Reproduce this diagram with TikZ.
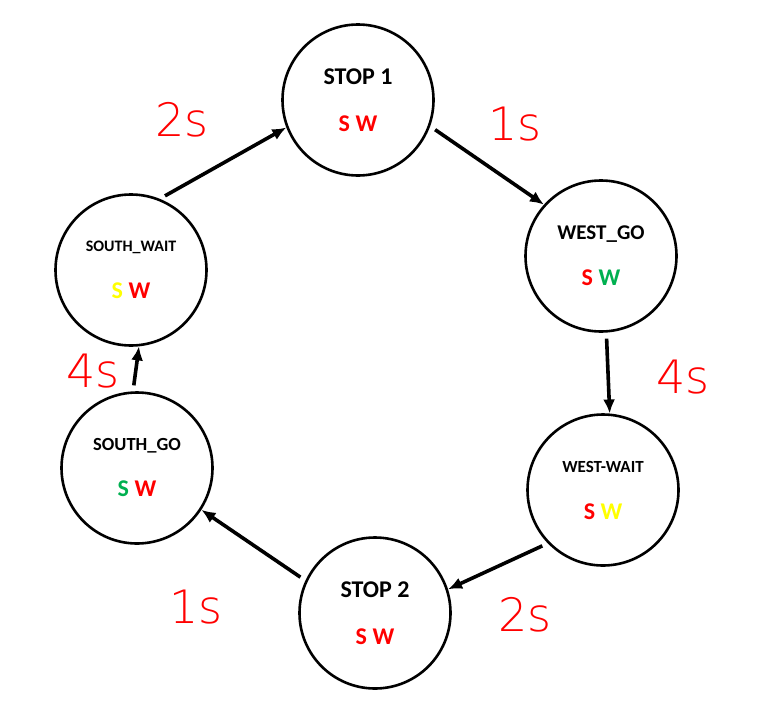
\documentclass[tikz,border=0pt]{standalone}
\usepackage{fontspec}
\setmainfont{Carlito}
\newfontfamily\handfont{DejaVu Sans ExtraLight}
\usepackage{xcolor}
\usetikzlibrary{arrows.meta}

\definecolor{sred}{HTML}{FF0000}
\definecolor{sgreen}{HTML}{00B050}
\definecolor{syellow}{HTML}{FFFF00}

\begin{document}
\begin{tikzpicture}[
  x=1pt, y=-1pt,
  state/.style={circle, draw, line width=2.6pt, minimum size=151pt, inner sep=0pt, align=center, font=\bfseries\fontsize{24}{27}\selectfont},
  arrow/.style={-{Latex[length=14pt,width=12pt]}, line width=3.6pt, shorten <=6pt},
  time/.style={text=sred, font=\handfont\fontsize{46}{50}\selectfont}
]
\useasboundingbox (0,0) rectangle (770,712);

\node[state] (stop1) at (358,100) {STOP 1\\[20pt]\textcolor{sred}{S W}};
\node[state] (westgo) at (601,256) {{\fontsize{21}{25}\selectfont WEST\_GO}\\[19pt]\textcolor{sred}{S} \textcolor{sgreen}{W}};
\node[state] (westwait) at (603,490) {{\fontsize{17}{20}\selectfont WEST-WAIT}\\[20pt]\textcolor{sred}{S} \textcolor{syellow}{W}};
\node[state] (stop2) at (375,613) {STOP 2\\[20pt]\textcolor{sred}{S W}};
\node[state] (southgo) at (137,468) {{\fontsize{18.5}{22}\selectfont SOUTH\_GO}\\[19pt]\textcolor{sgreen}{S} \textcolor{sred}{W}};
\node[state] (southwait) at (131,270) {{\fontsize{16}{19}\selectfont SOUTH\_WAIT}\\[20pt]\textcolor{syellow}{S} \textcolor{sred}{W}};

\draw[arrow] (southwait.68) -- (stop1.201);
\draw[arrow] (stop1.-20) -- (westgo.138);
\draw[arrow] (westgo.-86) -- (westwait.85);
\draw[arrow] (westwait.224) -- (stop2.18);
\draw[arrow] (stop2.155) -- (southgo.-33);
\draw[arrow] (southgo.93) -- (southwait.-84);

\node[time] (t1) at (182,120) {2s};
\node[time] (t2) at (515,124) {1s};
\node[time] (t3) at (683,377) {4s};
\node[time] (t4) at (525,615) {2s};
\node[time] (t5) at (196,607) {1s};
\node[time] (t6) at (93,371) {4s};
\end{tikzpicture}
\end{document}
